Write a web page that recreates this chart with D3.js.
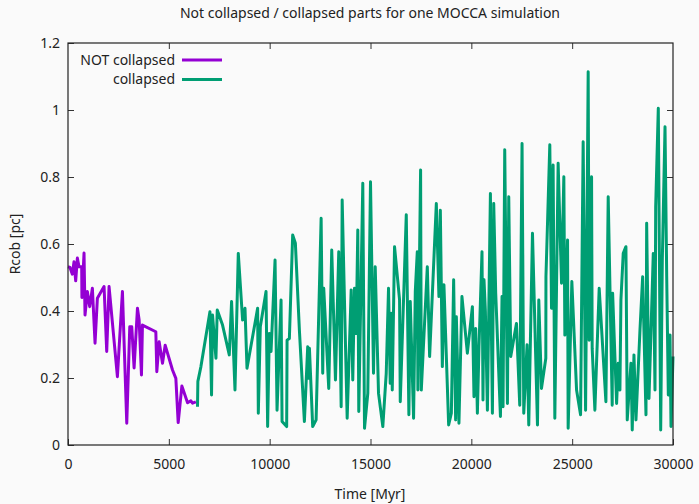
<!DOCTYPE html>
<html>
<head>
<meta charset="utf-8">
<script src="https://cdn.jsdelivr.net/npm/d3@7"></script>
<style>
  body { margin: 0; background: #fafafa; }
  svg { display: block; font-family: "Noto Sans", sans-serif; }
</style>
</head>
<body>
<svg id="chart" width="699" height="504"></svg>
<script>
// series: [time in Myr, Rcob in pc]
var notCollapsed = [
  [0,0.532],[99,0.53],[215,0.51],[298,0.547],[381,0.49],[464,0.558],[546,0.532],
  [679,0.532],[690,0.44],[795,0.573],[844,0.388],[960,0.458],[1076,0.413],[1209,0.468],
  [1341,0.304],[1457,0.438],[1788,0.473],[1920,0.279],[2036,0.473],[2450,0.204],
  [2699,0.458],[2914,0.065],[3063,0.353],[3162,0.353],[3278,0.23],[3444,0.408],
  [3527,0.373],[3643,0.209],[3692,0.358],[4355,0.338],[4404,0.219],[4520,0.308],
  [4686,0.244],[4818,0.298],[5182,0.224],[5348,0.199],[5464,0.067],[5646,0.176],
  [5928,0.126],[6093,0.132],[6176,0.125],[6341,0.129]
];

var collapsed = [
  [6422,0.114],[6440,0.19],[6591,0.234],[7038,0.398],[7118,0.149],[7167,0.388],
  [7336,0.259],[7401,0.403],[7664,0.358],[7997,0.269],[8111,0.428],[8280,0.164],
  [8444,0.572],[8658,0.373],[8777,0.408],[8876,0.229],[9403,0.408],[9437,0.095],
  [9536,0.353],[9820,0.458],[9899,0.055],[9983,0.333],[10068,0.279],[10267,0.552],
  [10366,0.104],[10565,0.433],[10615,0.07],[10843,0.055],[10863,0.313],[10977,0.318],
  [11141,0.627],[11275,0.602],[11474,0.343],[11722,0.07],[11886,0.293],[11936,0.199],
  [11971,0.289],[12134,0.055],[12303,0.075],[12552,0.677],[12631,0.214],[12681,0.468],
  [12929,0.169],[13078,0.582],[13262,0.194],[13426,0.577],[13545,0.114],[13595,0.731],
  [13843,0.08],[14042,0.463],[14121,0.194],[14206,0.468],[14290,0.333],[14370,0.642],
  [14419,0.1],[14618,0.781],[14703,0.05],[14866,0.154],[15000,0.786],[15149,0.214],
  [15234,0.532],[15398,0.154],[15611,0.055],[15780,0.214],[15894,0.468],[15979,0.184],
  [16029,0.393],[16079,0.164],[16192,0.592],[16441,0.433],[16476,0.129],[16774,0.687],
  [16903,0.09],[16972,0.428],[17136,0.08],[17221,0.458],[17320,0.577],[17350,0.164],
  [17484,0.821],[17519,0.164],[17817,0.532],[17931,0.264],[18264,0.721],[18393,0.443],
  [18463,0.701],[18562,0.234],[18641,0.478],[18875,0.06],[19009,0.095],[19123,0.493],
  [19222,0.075],[19257,0.383],[19386,0.065],[19535,0.443],[19803,0.274],[20052,0.413],
  [20131,0.144],[20216,0.348],[20300,0.095],[20380,0.293],[20529,0.577],[20578,0.134],
  [20628,0.493],[20697,0.398],[20797,0.104],[20946,0.751],[20995,0.343],[21045,0.095],
  [21110,0.721],[21209,0.453],[21443,0.085],[21522,0.443],[21572,0.114],[21656,0.881],
  [21741,0.393],[21790,0.124],[21855,0.741],[21954,0.264],[22237,0.363],[22401,0.119],
  [22515,0.9],[22600,0.095],[22764,0.299],[22848,0.06],[23032,0.632],[23280,0.06],
  [23345,0.433],[23479,0.169],[23693,0.259],[23700,0.502],[23891,0.896],[23976,0.408],
  [24055,0.836],[24140,0.08],[24304,0.841],[24473,0.483],[24587,0.801],[24637,0.328],
  [24771,0.612],[24801,0.05],[24984,0.488],[25218,0.164],[25416,0.09],[25545,0.905],
  [25665,0.104],[25794,1.114],[25843,0.313],[25962,0.801],[25992,0.289],[26126,0.104],
  [26340,0.468],[26673,0.129],[26787,0.741],[26986,0.119],[27006,0.453],[27204,0.124],
  [27284,0.244],[27368,0.164],[27418,0.433],[27532,0.572],[27666,0.592],[27731,0.075],
  [27915,0.244],[27979,0.045],[28064,0.269],[28163,0.075],[28362,0.343],[28495,0.502],
  [28660,0.09],[28694,0.662],[28809,0.139],[28908,0.338],[29022,0.572],[29107,0.164],
  [29141,0.711],[29271,1.005],[29390,0.045],[29470,0.552],[29604,0.95],[29688,0.502],
  [29768,0.149],[29852,0.328],[29901,0.055],[30000,0.264]
];

var xTicks = [0, 5000, 10000, 15000, 20000, 25000, 30000];
var yTicks = [0, 0.2, 0.4, 0.6, 0.8, 1, 1.2];
var seriesNames = ["NOT collapsed", "collapsed"];
var seriesColors = ["#9400d3", "#009e73"];

var svg = d3.select("#chart");
var margin = {left: 68, right: 26, top: 43, bottom: 59};
var W = 699, H = 504;

var x = d3.scaleLinear().domain([0, 30000]).range([margin.left, W - margin.right]);
var y = d3.scaleLinear().domain([0, 1.2]).range([H - margin.bottom, margin.top]);

// background
svg.append("rect").attr("width", W).attr("height", H).attr("fill", "#fafafa");

// ticks inside on all four sides (gnuplot style)
var tk = 6;
svg.append("g")
  .attr("transform", "translate(0," + y(0) + ")")
  .call(d3.axisBottom(x).tickValues(xTicks).tickSizeInner(-tk).tickSizeOuter(0).tickPadding(14).tickFormat(d3.format("d")))
  .call(function(g){ g.select(".domain").remove(); });
svg.append("g")
  .attr("transform", "translate(0," + y(1.2) + ")")
  .call(d3.axisTop(x).tickValues(xTicks.slice(1, -1)).tickSizeInner(-tk).tickSizeOuter(0).tickFormat(""))
  .call(function(g){ g.select(".domain").remove(); });
svg.append("g")
  .attr("transform", "translate(" + x(0) + ",0)")
  .call(d3.axisLeft(y).tickValues(yTicks).tickSizeInner(-tk).tickSizeOuter(0).tickPadding(8).tickFormat(function(d){ return d3.format("~g")(d); }))
  .call(function(g){ g.select(".domain").remove(); });
svg.append("g")
  .attr("transform", "translate(" + x(30000) + ",0)")
  .call(d3.axisRight(y).tickValues(yTicks.slice(1, -1)).tickSizeInner(-tk).tickSizeOuter(0).tickFormat(""))
  .call(function(g){ g.select(".domain").remove(); });

svg.selectAll(".tick line").attr("stroke", "#333").attr("stroke-width", 1);
svg.selectAll(".tick text").attr("font-size", 14).attr("fill", "#222").attr("font-family", "Noto Sans, sans-serif");

// lines
var line = d3.line().x(function(d){ return x(d[0]); }).y(function(d){ return y(d[1]); });
svg.append("path").datum(collapsed)
  .attr("d", line).attr("fill", "none").attr("stroke", seriesColors[1])
  .attr("stroke-width", 3).attr("stroke-linejoin", "round");
svg.append("path").datum(notCollapsed)
  .attr("d", line).attr("fill", "none").attr("stroke", seriesColors[0])
  .attr("stroke-width", 3).attr("stroke-linejoin", "round");

// frame
svg.append("rect")
  .attr("x", x(0)).attr("y", y(1.2))
  .attr("width", x(30000) - x(0)).attr("height", y(0) - y(1.2))
  .attr("fill", "none").attr("stroke", "#222").attr("stroke-width", 1.2);

// legend
var leg = svg.append("g");
seriesNames.forEach(function(name, i){
  var ly = 60 + i * 19.5;
  leg.append("text").attr("x", 175).attr("y", ly).attr("dy", "0.35em")
    .attr("text-anchor", "end").attr("font-size", 14).attr("fill", "#222").text(name);
  leg.append("line").attr("x1", 182).attr("x2", 222).attr("y1", ly).attr("y2", ly)
    .attr("stroke", seriesColors[i]).attr("stroke-width", 3);
});

// title and axis labels
svg.append("text").attr("x", 370).attr("y", 18).attr("text-anchor", "middle")
  .attr("font-size", 14).attr("fill", "#222")
  .text("Not collapsed / collapsed parts for one MOCCA simulation");
svg.append("text").attr("x", 370).attr("y", 499).attr("text-anchor", "middle")
  .attr("font-size", 14).attr("fill", "#222").text("Time [Myr]");
svg.append("text").attr("transform", "translate(20," + ((y(0) + y(1.2)) / 2) + ") rotate(-90)")
  .attr("text-anchor", "middle").attr("font-size", 14).attr("fill", "#222").text("Rcob [pc]");
</script>
</body>
</html>
